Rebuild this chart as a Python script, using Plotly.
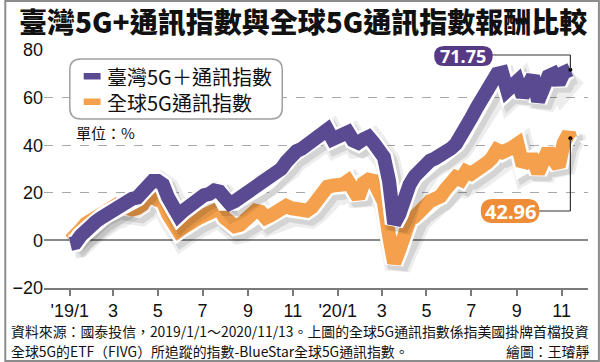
import pandas as pd
import plotly.graph_objects as go

# ---------------- data ----------------
dates = ["2019-01-02","2019-01-09","2019-01-16","2019-01-23","2019-01-30","2019-02-06","2019-02-13","2019-02-20","2019-02-27","2019-03-06",
         "2019-03-13","2019-03-20","2019-03-27","2019-04-03","2019-04-10","2019-04-17","2019-04-24","2019-05-01","2019-05-08","2019-05-15",
         "2019-05-22","2019-05-29","2019-06-05","2019-06-12","2019-06-19","2019-06-26","2019-07-03","2019-07-10","2019-07-17","2019-07-24",
         "2019-07-31","2019-08-07","2019-08-14","2019-08-21","2019-08-28","2019-09-04","2019-09-11","2019-09-18","2019-09-25","2019-10-02",
         "2019-10-09","2019-10-16","2019-10-23","2019-10-30","2019-11-06","2019-11-13","2019-11-20","2019-11-27","2019-12-04","2019-12-11",
         "2019-12-18","2019-12-25","2020-01-01","2020-01-08","2020-01-15","2020-01-22","2020-01-29","2020-02-05","2020-02-12","2020-02-19",
         "2020-02-26","2020-03-04","2020-03-11","2020-03-18","2020-03-25","2020-04-01","2020-04-08","2020-04-15","2020-04-22","2020-04-29",
         "2020-05-06","2020-05-13","2020-05-20","2020-05-27","2020-06-03","2020-06-10","2020-06-17","2020-06-24","2020-07-01","2020-07-08",
         "2020-07-15","2020-07-22","2020-07-29","2020-08-05","2020-08-12","2020-08-19","2020-08-26","2020-09-02","2020-09-09","2020-09-16",
         "2020-09-23","2020-09-30","2020-10-07","2020-10-14","2020-10-21","2020-10-28","2020-11-04","2020-11-11","2020-11-13"]

taiwan_5g = [-1.5, -1, 2, 4.5, 6.5, 8, 9.5, 11, 12, 12.5,
             14, 16.5, 17.5, 18, 20.5, 23.5, 25, 25, 23.5, 18,
             13, 10.5, 12.5, 14.5, 16, 17.5, 19, 19.5, 21, 20.5,
             16.5, 15.5, 16.5, 18, 19, 20.5, 22, 23, 24.5, 26.5,
             28, 30, 33, 36, 37.5, 38.5, 40, 41, 43, 45.5,
             46.5, 42.5, 43, 44.5, 45.5, 42, 41, 42.5, 43.5, 41,
             37, 35, 25, 7, 11, 19, 23.5, 27, 29.5, 32,
             33.5, 34.5, 35.5, 36.5, 38.5, 40.5, 43.5, 47.5, 51.5, 55.5,
             59, 62, 66, 70, 70.5, 63, 65, 67, 60.5, 65.5,
             69, 58.5, 65, 69, 70, 66, 70.5, 71, 71.75]

global_5g = [0, 1.5, 4.5, 7, 8.5, 10, 12, 13.5, 15, 15,
             14.5, 13.5, 13, 13.5, 15, 19, 18.5, 17, 16, 11,
             6.5, 4, 5.5, 7.5, 9, 9.5, 10.5, 11.5, 13, 13.5,
             9.5, 7, 6, 6.5, 8, 10, 12.5, 12, 9.5, 10.5,
             12.5, 14, 14.5, 13.5, 13, 12, 12.5, 14, 17, 21,
             22.5, 23, 22.5, 23.5, 25, 22, 18, 24, 25.5, 25,
             21, 16, 2, -9.5, -4, 3, 8.5, 10, 12.5, 15,
             16.5, 17.5, 18.5, 21.5, 24.5, 26.5, 25.5, 29, 28, 29,
             31, 32.5, 34.5, 38, 37, 37.5, 39, 40.5, 31.5, 34,
             34, 28.5, 35.5, 38, 34, 31, 41, 45, 42.96]

series_names = ["臺灣5G＋通訊指數", "全球5G通訊指數"]
tick_vals = ["2019-01-01","2019-03-01","2019-05-01","2019-07-01","2019-09-01","2019-11-01",
             "2020-01-01","2020-03-01","2020-05-01","2020-07-01","2020-09-01","2020-11-01"]
tick_text = ["'19/1","3","5","7","9","11","'20/1","3","5","7","9","11"]
y_ticks = [-20, 0, 20, 40, 60, 80]

title_text = "臺灣5G+通訊指數與全球5G通訊指數報酬比較"
unit_text = "單位：%"
note_line1 = "資料來源：國泰投信，2019/1/1～2020/11/13。上圖的全球5G通訊指數係指美國掛牌首檔投資"
note_line2 = "全球5G的ETF（FIVG）所追蹤的指數-BlueStar全球5G通訊指數。"
credit = "繪圖：王璿靜"

# ---------------- styling / layout helpers ----------------
PURPLE = "#5a4a92"
ORANGE = "#f4a04c"
PURPLE_BOX = "#563a86"
ORANGE_BOX = "#ee8c38"
W, H = 600, 362
L, R, TOP, BOT = 40, 588, 50, 288
X0 = pd.Timestamp("2018-11-27")
X1 = pd.Timestamp("2020-12-07")
YMIN, YMAX = -20, 80
CJK = "Noto Sans CJK TC"
NUM = "Liberation Sans Narrow, Liberation Sans, Arial"


def pxx(p):
    return (p - L) / (R - L)


def pxy(p):
    return (BOT - p) / (BOT - TOP)


def pdate(p):
    return X0 + (p - L) / (R - L) * (X1 - X0)


def pval(p):
    return YMIN + (BOT - p) / (BOT - TOP) * (YMAX - YMIN)


def rrect(x0, y0, x1, y1, r):
    ax = lambda p: pxx(p)
    ay = lambda p: pxy(p)
    return (f"M {ax(x0+r)} {ay(y0)} L {ax(x1-r)} {ay(y0)} Q {ax(x1)} {ay(y0)} {ax(x1)} {ay(y0+r)} "
            f"L {ax(x1)} {ay(y1-r)} Q {ax(x1)} {ay(y1)} {ax(x1-r)} {ay(y1)} "
            f"L {ax(x0+r)} {ay(y1)} Q {ax(x0)} {ay(y1)} {ax(x0)} {ay(y1-r)} "
            f"L {ax(x0)} {ay(y0+r)} Q {ax(x0)} {ay(y0)} {ax(x0+r)} {ay(y0)} Z")


fig = go.Figure()

SHX = pd.Timedelta(days=5)
SHY = 2.0


def add_series(vals, color, shadow_axes, main_axes):
    xs, ys = shadow_axes
    fig.add_trace(go.Scatter(x=dates, y=vals, mode="lines", xaxis=xs, yaxis=ys,
                             line=dict(color="rgba(0,0,0,0.07)", width=26), hoverinfo="skip", showlegend=False))
    fig.add_trace(go.Scatter(x=dates, y=vals, mode="lines", xaxis=xs, yaxis=ys,
                             line=dict(color="rgba(0,0,0,0.10)", width=20), hoverinfo="skip", showlegend=False))
    xm, ym = main_axes
    fig.add_trace(go.Scatter(x=dates, y=vals, mode="lines", xaxis=xm, yaxis=ym,
                             line=dict(color="white", width=19), hoverinfo="skip", showlegend=False))
    fig.add_trace(go.Scatter(x=dates, y=vals, mode="lines", xaxis=xm, yaxis=ym,
                             line=dict(color=color, width=14), showlegend=False))


add_series(global_5g, ORANGE, ("x2", "y2"), ("x3", "y3"))
add_series(taiwan_5g, PURPLE, ("x4", "y4"), ("x5", "y5"))

fig.add_trace(go.Scatter(x=[dates[-1], dates[-1]], y=[taiwan_5g[-1], global_5g[-1]], mode="markers",
                         xaxis="x5", yaxis="y5", marker=dict(color="black", size=4), showlegend=False,
                         hoverinfo="skip"))

main_x = dict(type="date", range=[X0, X1], tickvals=tick_vals, ticktext=tick_text,
              ticks="outside", ticklen=6, tickwidth=1.5, tickcolor="#7a7a7a",
              showline=True, linecolor="#7a7a7a", linewidth=1.5, showgrid=False, zeroline=False,
              tickfont=dict(family=NUM, size=18, color="#111"), fixedrange=True)
main_y = dict(range=[YMIN, YMAX], tickvals=y_ticks, showgrid=True, gridcolor="#a8a8a8", griddash="dash",
              gridwidth=1, zeroline=True, zerolinecolor="#8a8a8a", zerolinewidth=1.6, ticks="",
              showline=False, tickfont=dict(family=NUM, size=18, color="#111"), fixedrange=True)

layout = dict(
    width=W, height=H, margin=dict(l=L, r=W - R, t=TOP, b=H - BOT),
    paper_bgcolor="white", plot_bgcolor="white", showlegend=False,
    xaxis=main_x, yaxis=main_y,
)
for i in (2, 3, 4, 5):
    shifted = i in (2, 4)
    layout[f"xaxis{i}"] = dict(type="date", overlaying="x", anchor=f"y{i}", visible=False, fixedrange=True,
                               range=[X0 - SHX, X1 - SHX] if shifted else [X0, X1])
    layout[f"yaxis{i}"] = dict(overlaying="y", anchor=f"x{i}", visible=False, fixedrange=True,
                               range=[YMIN + SHY, YMAX + SHY] if shifted else [YMIN, YMAX])
fig.update_layout(**layout)

shapes = []
shapes.append(dict(type="rect", xref="paper", yref="paper", x0=pxx(1), x1=pxx(599), y0=pxy(1), y1=pxy(361),
                   line=dict(color="#8c8c8c", width=2), layer="below"))
shapes.append(dict(type="path", xref="paper", yref="paper", path=rrect(66, 59, 280, 119, 11),
                   line=dict(color="#a0a0a0", width=1.5), fillcolor="white", layer="above"))
shapes.append(dict(type="rect", xref="paper", yref="paper", x0=pxx(80), x1=pxx(97), y0=pxy(73), y1=pxy(79.5),
                   line=dict(width=0), fillcolor=PURPLE, layer="above"))
shapes.append(dict(type="rect", xref="paper", yref="paper", x0=pxx(80), x1=pxx(97), y0=pxy(98.5), y1=pxy(105),
                   line=dict(width=0), fillcolor=ORANGE, layer="above"))

last = dates[-1]
tw_level = pval(55)
gl_level = pval(211)
shapes.append(dict(type="line", xref="x", yref="y", x0=last, x1=last, y0=taiwan_5g[-1], y1=tw_level,
                   line=dict(color="#333", width=1.2), layer="above"))
shapes.append(dict(type="line", xref="x", yref="y", x0=pdate(490), x1=last, y0=tw_level, y1=tw_level,
                   line=dict(color="#333", width=1.2), layer="above"))
shapes.append(dict(type="line", xref="x", yref="y", x0=last, x1=last, y0=global_5g[-1], y1=gl_level,
                   line=dict(color="#333", width=1.2), layer="above"))
shapes.append(dict(type="line", xref="x", yref="y", x0=pdate(536), x1=last, y0=gl_level, y1=gl_level,
                   line=dict(color="#333", width=1.2), layer="above"))
shapes.append(dict(type="path", xref="paper", yref="paper", path=rrect(433, 46, 492, 66, 10),
                   line=dict(width=0), fillcolor=PURPLE_BOX, layer="above"))
shapes.append(dict(type="path", xref="paper", yref="paper", path=rrect(480, 199, 539, 223, 12),
                   line=dict(width=0), fillcolor=ORANGE_BOX, layer="above"))
fig.update_layout(shapes=shapes)

ann = []


def txt(text, x, y, size, xanchor="left", color="#111", family=CJK, weight=None):
    f = dict(family=family, size=size, color=color)
    if weight:
        f["weight"] = weight
    ann.append(dict(text=text, xref="paper", yref="paper", x=pxx(x), y=pxy(y), xanchor=xanchor,
                    yanchor="middle", showarrow=False, align="left", font=f))


txt(title_text, 301, 21, 28, xanchor="center", color="#111", weight=900)
txt(series_names[0] + "<br>" + series_names[1], 101, 89.5, 20)
txt(unit_text, 70, 132, 15)
txt(f"{taiwan_5g[-1]:.2f}", 462.5, 56, 18, xanchor="center", color="white", family="Noto Sans, Arial", weight=700)
txt(f"{global_5g[-1]:.2f}", 509.5, 211, 20, xanchor="center", color="white", family="Noto Sans, Arial", weight=700)
txt(note_line1, 5, 331, 13.9)
txt(note_line2, 5, 351, 13.9)
txt(credit, 591, 351, 13.9, xanchor="right")
fig.update_layout(annotations=ann)

fig.write_html("out.html", config={"displayModeBar": False},
               post_script="document.body.style.margin='0';document.body.style.padding='0';")
